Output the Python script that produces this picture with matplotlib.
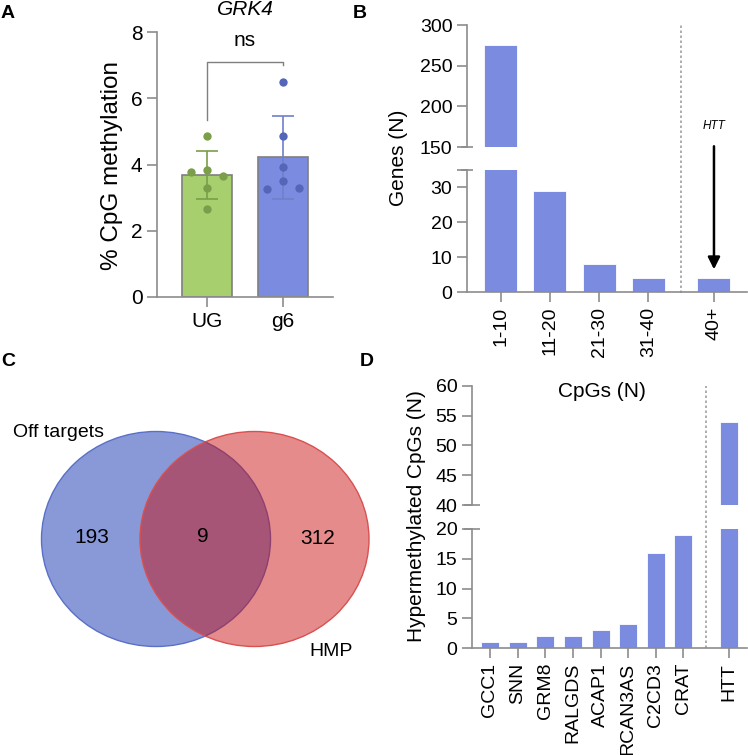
import numpy as np
import matplotlib
matplotlib.use("Agg")
import matplotlib.pyplot as plt
from matplotlib.patches import Ellipse
from matplotlib.transforms import blended_transform_factory

plt.rcParams['font.family'] = ['Liberation Sans', 'DejaVu Sans']
plt.rcParams['font.size'] = 13

W, H = 748, 755
GRAY = '#8c8c8c'
BAR = '#7b8be0'

# ---- data ----
# A: GRK4 methylation, individual replicates
groups_a = ['UG', 'g6']
ug_points = [4.87, 3.77, 3.84, 3.64, 3.30, 2.65]
g6_points = [6.48, 4.85, 3.91, 3.51, 3.26, 3.30]
ug_jitter = [0, -0.21, 0, 0.21, 0, 0]
g6_jitter = [0, 0, 0, 0, -0.21, 0.21]

# B: genes per CpG bin
bins_b = ['1-10', '11-20', '21-30', '31-40', '40+']
genes_b = [275, 29, 8, 4, 4]

# C: venn counts
venn_labels = ['Off targets', 'HMP']
venn_counts = [193, 9, 312]

# D: hypermethylated CpGs per gene
genes_d = ['GCC1', 'SNN', 'GRM8', 'RALGDS', 'ACAP1', 'RCAN3AS', 'C2CD3', 'CRAT', 'HTT']
cpgs_d = [1, 1, 2, 2, 3, 4, 16, 19, 54]


def fig_rect(x0, y0, x1, y1):
    # pixel box (top-left origin) -> figure fraction rect
    return [x0 / W, 1 - y1 / H, (x1 - x0) / W, (y1 - y0) / H]


def style(ax, bottom=True):
    for s in ['top', 'right']:
        ax.spines[s].set_visible(False)
    ax.spines['left'].set_color(GRAY)
    ax.spines['bottom'].set_color(GRAY)
    ax.spines['left'].set_linewidth(1.2)
    ax.spines['bottom'].set_linewidth(1.2)
    ax.tick_params(colors=GRAY, labelcolor='black', length=7, width=1.2, labelsize=14)
    if not bottom:
        ax.spines['bottom'].set_visible(False)
        ax.tick_params(axis='x', bottom=False, labelbottom=False)


fig = plt.figure(figsize=(W / 100, H / 100), dpi=100)

# ---- A ----
axA = fig.add_axes(fig_rect(157, 32, 333, 297))
style(axA)
axA.tick_params(labelsize=15)
xa = np.arange(len(groups_a))
pts = [np.array(ug_points), np.array(g6_points)]
jit = [ug_jitter, g6_jitter]
means = [p.mean() for p in pts]
sds = [p.std(ddof=1) for p in pts]
fills = ['#a8cf6e', '#7b8be0']
dots = ['#7a9e4a', '#5566b8']
errc = ['#7a9e4a', '#6f7fc8']
axA.bar(xa, means, width=0.66, color=fills, edgecolor='#7f7f7f', linewidth=1.2, zorder=2)
for i in range(2):
    axA.errorbar(xa[i], means[i], yerr=sds[i], color=errc[i], capsize=8,
                 elinewidth=1.2, capthick=1.2, zorder=3)
    axA.scatter(xa[i] + np.array(jit[i]), pts[i], s=36, color=dots[i], zorder=4, linewidths=0)
axA.set_xlim(-0.66, 1.66)
axA.set_ylim(0, 8)
axA.set_yticks([0, 2, 4, 6, 8])
axA.set_xticks(xa)
axA.set_xticklabels(groups_a, fontsize=15)
axA.plot([0, 0, 1, 1], [5.35, 7.1, 7.1, 7.0], color='#7f7f7f', lw=1, clip_on=False)
axA.text(0.5, 7.75, 'ns', ha='center', va='center', fontsize=15)
axA.set_title('GRK4', style='italic', fontsize=15, pad=12)
fig.text(112 / W, 1 - 165 / H, '% CpG methylation', rotation=90, ha='center', va='center', fontsize=17.5)

# ---- B ----
axBu = fig.add_axes(fig_rect(467, 25, 747, 147))
axBl = fig.add_axes(fig_rect(467, 170, 747, 292))
style(axBu, bottom=False)
style(axBl)
xb = np.array([0, 1, 2, 3, 4.33])
for ax in (axBu, axBl):
    ax.bar(xb, genes_b, width=0.67, color=BAR, edgecolor='white', linewidth=0.6)
    ax.set_xlim(-0.68, 5.0)
axBu.set_ylim(150, 300)
axBu.set_yticks([150, 200, 250, 300])
axBl.set_ylim(0, 35)
axBl.set_yticks([0, 10, 20, 30, 35])
axBl.set_yticklabels(['0', '10', '20', '30', ''])
axBl.set_xticks(xb)
axBl.set_xticklabels(bins_b, rotation=90, fontsize=14)
axBu.plot([0], [150], marker='_', ms=9, mew=1.2, color=GRAY, transform=axBu.get_yaxis_transform(), clip_on=False)
axBl.plot([0], [35], marker='_', ms=9, mew=1.2, color=GRAY, transform=axBl.get_yaxis_transform(), clip_on=False)
trB = blended_transform_factory(axBl.transData, fig.transFigure)
axBl.plot([3.66, 3.66], [1 - 293 / H, 1 - 25 / H], ls=(0, (1.5, 1.5)), color='#a0a0a0', lw=1.2,
          transform=trB, clip_on=False)
axBl.annotate('', xy=(4.33, 5.7), xytext=(4.33, 42.6),
              arrowprops=dict(arrowstyle='-|>', color='black', lw=1.8, mutation_scale=18),
              annotation_clip=False)
axBl.text(4.33, 47.7, 'HTT', style='italic', fontsize=8.5, ha='center', va='center', clip_on=False)
fig.text(399 / W, 1 - 158 / H, 'Genes (N)', rotation=90, ha='center', va='center', fontsize=15)

# ---- C ----
axC = fig.add_axes([0, 0, 374 / W, 425 / H])
axC.set_xlim(0, 374)
axC.set_ylim(755, 330)
axC.axis('off')
axC.add_patch(Ellipse((156, 539), 229, 215, facecolor='#1e3cb4', alpha=0.52, edgecolor='none'))
axC.add_patch(Ellipse((156, 539), 229, 215, facecolor='none', edgecolor='#5a70c8', lw=1))
axC.add_patch(Ellipse((254.5, 539), 229, 215, facecolor='#ca0a0a', alpha=0.47, edgecolor='none'))
axC.add_patch(Ellipse((254.5, 539), 229, 215, facecolor='none', edgecolor='#d85050', lw=1))
axC.text(92, 538, str(venn_counts[0]), ha='center', va='center', fontsize=15)
axC.text(203, 537, str(venn_counts[1]), ha='center', va='center', fontsize=15)
axC.text(318, 539, str(venn_counts[2]), ha='center', va='center', fontsize=15)
axC.text(13, 433, venn_labels[0], ha='left', va='center', fontsize=14)
axC.text(331, 652, venn_labels[1], ha='center', va='center', fontsize=14)

# ---- D ----
axDu = fig.add_axes(fig_rect(472, 385.7, 747, 505.3))
axDl = fig.add_axes(fig_rect(472, 528.7, 747, 648.3))
style(axDu, bottom=False)
style(axDl)
xd = np.append(np.arange(8), 8.66)
for ax in (axDu, axDl):
    ax.bar(xd, cpgs_d, width=0.65, color=BAR, edgecolor='white', linewidth=0.6)
    ax.set_xlim(-0.65, 9.3)
axDu.set_ylim(40, 60)
axDu.set_yticks([40, 45, 50, 55, 60])
axDl.set_ylim(0, 20)
axDl.set_yticks([0, 5, 10, 15, 20])
axDl.set_xticks(xd)
axDl.set_xticklabels(genes_d, rotation=90, fontsize=14)
axDu.plot([0], [40], marker='_', ms=11, mew=1.2, color=GRAY, transform=axDu.get_yaxis_transform(), clip_on=False)
axDl.plot([0], [20], marker='_', ms=11, mew=1.2, color=GRAY, transform=axDl.get_yaxis_transform(), clip_on=False)
trD = blended_transform_factory(axDl.transData, fig.transFigure)
axDl.plot([7.82, 7.82], [1 - 648.3 / H, 1 - 385.7 / H], ls=(0, (1.5, 1.5)), color='#a0a0a0', lw=1.2,
          transform=trD, clip_on=False)
axDu.text(4.05, 59.0, 'CpGs (N)', ha='center', va='center', fontsize=15)
fig.text(417 / W, 1 - 516 / H, 'Hypermethylated CpGs (N)', rotation=90, ha='center', va='center', fontsize=15)

# panel letters
for lab, x, y in [('A', 8, 14), ('B', 360, 14), ('C', 8, 362), ('D', 367, 362)]:
    fig.text(x / W, 1 - y / H, lab, fontweight='bold', fontsize=14, ha='center', va='center')

fig.savefig('out.png', dpi=100)
